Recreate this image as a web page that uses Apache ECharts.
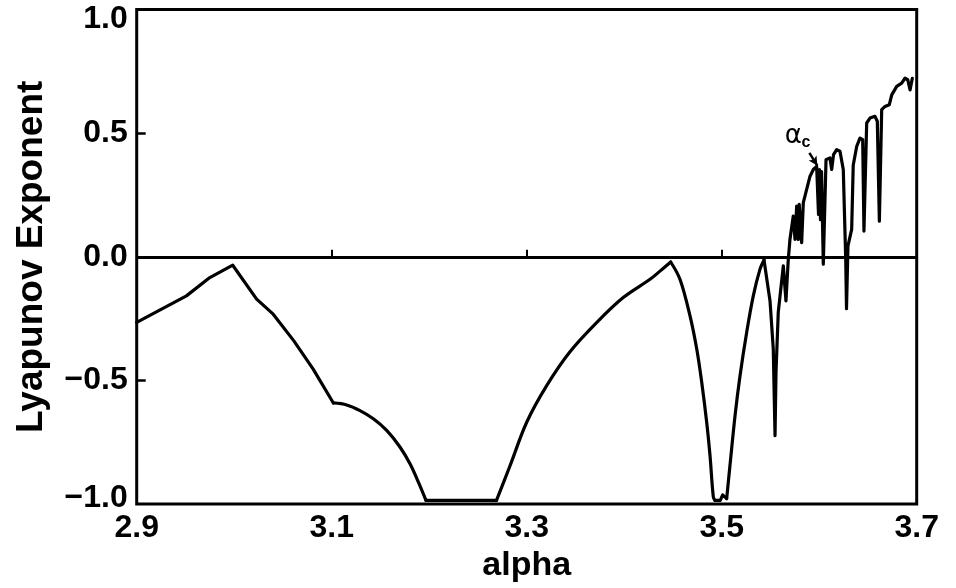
<!DOCTYPE html>
<html>
<head>
<meta charset="utf-8">
<script src="https://cdn.jsdelivr.net/npm/echarts@6/dist/echarts.min.js"></script>
<style>
html,body{margin:0;padding:0;background:#fff;}
#chart{width:956px;height:588px;}
</style>
</head>
<body>
<div id="chart"></div>
<script>
// alpha (x) values and Lyapunov exponent (y) values
const alphaValues = [
  // 0-8: 2.90 -> 3.10
  2.900, 2.951, 2.975, 2.9985, 3.023, 3.040, 3.061, 3.081, 3.1017,
  // 8-16: smooth fall to the floor
  3.1154, 3.129, 3.1427, 3.1564, 3.170, 3.1803, 3.1888, 3.1967,
  // 17: end of floor, 17-26: smooth rise
  3.269, 3.2829, 3.300, 3.3205, 3.344, 3.372, 3.399, 3.4265, 3.437, 3.4477,
  // 27-34: smooth drop
  3.4572, 3.4675, 3.4744, 3.4795, 3.4846, 3.488, 3.4914, 3.4931,
  // 35-37: floor with small bump
  3.4985, 3.5010, 3.5051,
  // 38-44: smooth rise
  3.5085, 3.5137, 3.5188, 3.5256, 3.5324, 3.5393, 3.5434,
  // 45+: dips and chaotic region
  3.5496, 3.5529, 3.5547, 3.5557, 3.558, 3.5632, 3.5659, 3.5683, 3.570,
  3.5734, 3.5752, 3.5769, 3.5785, 3.5795, 3.582, 3.5837, 3.5906, 3.594, 3.5974, 3.5993, 3.6003, 3.6013, 3.6024,
  3.6042, 3.607, 3.611, 3.6128, 3.6147, 3.6179, 3.6213, 3.6247, 3.6272, 3.628, 3.6295, 3.6333, 3.6349, 3.6385,
  3.6418, 3.6446, 3.6459, 3.6487, 3.6521, 3.6572, 3.6596, 3.6617, 3.6641, 3.6675, 3.6719, 3.6744, 3.6795, 3.6846,
  3.688, 3.6908, 3.6932, 3.6955
];
const lyapunovValues = [
  -0.265, -0.158, -0.084, -0.034, -0.171, -0.232, -0.339, -0.454, -0.591,
  -0.599, -0.622, -0.655, -0.702, -0.769, -0.837, -0.910, -0.985,
  -0.985, -0.845, -0.669, -0.521, -0.386, -0.265, -0.165, -0.091, -0.057, -0.021,
  -0.091, -0.239, -0.373, -0.507, -0.669, -0.803, -0.971, -0.985,
  -0.985, -0.963, -0.978,
  -0.843, -0.642, -0.481, -0.306, -0.158, -0.050, -0.013,
  -0.180, -0.373, -0.723, -0.466, -0.225, -0.037, -0.178, -0.010, 0.070,
  0.165, 0.070, 0.205, 0.070, 0.212, 0.057, 0.219, 0.326, 0.353, 0.366, 0.171, 0.353, 0.150, 0.345,
  -0.030, 0.393, 0.400, 0.353, 0.413, 0.433, 0.427, 0.353, -0.010, -0.210, 0.044, 0.111, 0.370, 0.447,
  0.480, 0.474, 0.104, 0.541, 0.561, 0.568, 0.548, 0.144, 0.595, 0.608, 0.615, 0.655, 0.689, 0.702,
  0.722, 0.716, 0.675, 0.722
];
// index ranges of the curve pieces: [first, last, smooth]
const curvePieces = [
  [0, 8, false],
  [8, 16, true],
  [16, 17, false],
  [17, 26, true],
  [26, 34, true],
  [34, 37, false],
  [37, 44, true],
  [44, alphaValues.length - 1, false]
];
const xTickValues = [2.9, 3.1, 3.3, 3.5, 3.7];
const xTickLabels = ['2.9', '3.1', '3.3', '3.5', '3.7'];
const xInnerTicks = [3.1, 3.3, 3.5];
const yTickValues = [-1, -0.5, 0, 0.5, 1];
const yTickLabels = ['\u22121.0', '\u22120.5', '0.0', '0.5', '1.0'];
const yInnerTicks = [-0.5, 0.5];
const annotationText = ['\u03b1', 'c'];
const annotationPos = [[3.5734, 0.489], [3.5865, 0.4625]];
const arrowFrom = [3.5899, 0.420];
const arrowTo = [3.5981, 0.369];

const FONT = 'Liberation Sans';
const lineStyle = {color: '#000', width: 3.2, join: 'round', cap: 'round'};

const series = curvePieces.map(([a, b, smooth]) => ({
  type: 'line',
  data: alphaValues.slice(a, b + 1).map((x, i) => [x, lyapunovValues[a + i]]),
  showSymbol: false,
  symbol: 'none',
  smooth: smooth ? 0.35 : false,
  lineStyle: lineStyle,
  silent: true,
  z: 3
}));

series[0].markLine = {
  silent: true,
  symbol: ['none', 'none'],
  label: {show: false},
  emphasis: {disabled: true},
  data: [
    {yAxis: 0, lineStyle: {color: '#000', width: 3, type: 'solid'}},
    [
      {coord: arrowFrom, symbol: 'none', lineStyle: {color: '#000', width: 2.5, type: 'solid'}},
      {coord: arrowTo, symbol: 'arrow', symbolSize: [7, 9]}
    ]
  ]
};
series[0].markPoint = {
  silent: true,
  symbol: 'circle',
  symbolSize: 0,
  itemStyle: {color: 'rgba(0,0,0,0)'},
  data: [
    {coord: annotationPos[0], label: {show: true, position: 'inside', formatter: annotationText[0], fontFamily: 'DejaVu Sans', fontSize: 26, color: '#000'}},
    {coord: annotationPos[1], label: {show: true, position: 'inside', formatter: annotationText[1], fontFamily: FONT, fontSize: 16, fontWeight: 'bold', color: '#000'}}
  ]
};

const chart = echarts.init(document.getElementById('chart'), null, {renderer: 'canvas'});
chart.setOption({
  animation: false,
  backgroundColor: '#fff',
  grid: {
    left: 136.7, right: 39.3, top: 9.5, bottom: 82.5,
    show: true, borderColor: '#000', borderWidth: 3, backgroundColor: 'transparent'
  },
  xAxis: {
    type: 'value', min: 2.9, max: 3.7,
    name: 'alpha', nameLocation: 'middle', nameGap: 39,
    nameTextStyle: {fontFamily: FONT, fontSize: 34, fontWeight: 'bold', color: '#000'},
    axisLine: {show: false},
    splitLine: {show: false},
    axisTick: {show: true, inside: true, length: 7, lineStyle: {color: '#000', width: 2}, customValues: xInnerTicks},
    axisLabel: {
      customValues: xTickValues,
      margin: 8, fontFamily: FONT, fontSize: 32, fontWeight: 'bold', color: '#000',
      formatter: v => { const i = xTickValues.findIndex(t => Math.abs(t - v) < 1e-6); return i >= 0 ? xTickLabels[i] : ''; }
    }
  },
  yAxis: {
    type: 'value', min: -1, max: 1, interval: 0.5,
    name: 'Lyapunov Exponent', nameLocation: 'middle', nameGap: 86,
    nameTextStyle: {fontFamily: FONT, fontSize: 37, fontWeight: 'bold', color: '#000'},
    axisLine: {show: false},
    splitLine: {show: false},
    axisTick: {show: true, inside: true, length: 9, lineStyle: {color: '#000', width: 2.5}, customValues: yInnerTicks},
    axisLabel: {
      customValues: yTickValues,
      margin: 9, fontFamily: FONT, fontSize: 32, fontWeight: 'bold', color: '#000',
      formatter: v => {
        const i = yTickValues.findIndex(t => Math.abs(t - v) < 1e-6);
        if (i < 0) return '';
        if (v === 1) return '{top|' + yTickLabels[i] + '}';
        if (v === -1) return '{bot|' + yTickLabels[i] + '}';
        return yTickLabels[i];
      },
      rich: {
        top: {fontFamily: FONT, fontSize: 32, fontWeight: 'bold', color: '#000', padding: [20, 0, 0, 0]},
        bot: {fontFamily: FONT, fontSize: 32, fontWeight: 'bold', color: '#000', padding: [0, 0, 12, 0]}
      }
    }
  },
  series: series
});
</script>
</body>
</html>
